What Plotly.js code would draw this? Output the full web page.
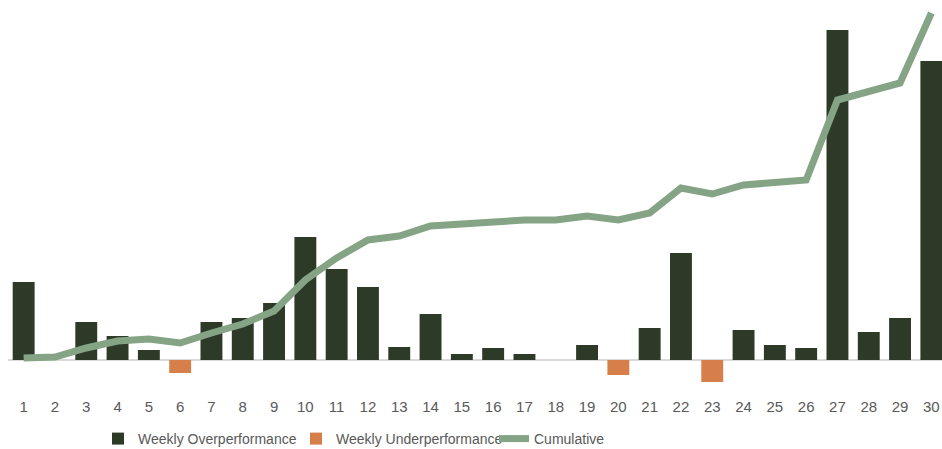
<!DOCTYPE html>
<html><head><meta charset="utf-8">
<script src="https://cdn.plot.ly/plotly-3.0.1.min.js"></script>
<style>html,body{margin:0;padding:0;background:#fff}#c{width:942px;height:449px}</style>
</head><body><div id="c"></div>
<script>
const weeks = [1,2,3,4,5,6,7,8,9,10,11,12,13,14,15,16,17,18,19,20,21,22,23,24,25,26,27,28,29,30];
const over  = [78,0,38,24,10,0,38,42,57,123,91,73,13,46,6,12,6,0,15,0,32,107,0,30,15,12,330,28,42,299];
const under = [0,0,0,0,0,-13,0,0,0,0,0,0,0,0,0,0,0,0,0,-15,0,0,-22,0,0,0,0,0,0,0];
const cumulative = [2,3,12,19,21,17,27,36,49,80,102,120,124,134,136,138,140,140,144,140,147,172,166,175,178,180,260,268,277,347];

const traces = [
  {type:'bar', x:weeks, y:over, name:'Weekly Overperformance', marker:{color:'#2d3a28'}, width:0.7},
  {type:'bar', x:weeks, y:under, name:'Weekly Underperformance', marker:{color:'#d77f4a'}, width:0.7},
  {type:'scatter', mode:'lines', x:weeks, y:cumulative, name:'Cumulative', line:{color:'#85a485', width:7}}
];
const layout = {
  width:942, height:449,
  margin:{l:8, r:0, t:5, b:59},
  paper_bgcolor:'#fff', plot_bgcolor:'#fff',
  barmode:'relative', bargap:0.3,
  showlegend:true,
  font:{family:'Liberation Sans, Arial, sans-serif', color:'#595959'},
  xaxis:{range:[0.5,30.34], tickvals:weeks, ticktext:weeks.map(String), showgrid:false, zeroline:false,
         showline:false, ticks:'outside', ticklen:3, tickcolor:'rgba(0,0,0,0)', tickfont:{size:15, color:'#595959'}},
  yaxis:{range:[-30,355], showgrid:false, showticklabels:false, zeroline:true, zerolinecolor:'#d9d9d9', zerolinewidth:2, showline:false},
  legend:{orientation:'h', xref:'container', yref:'container', x:98/942, xanchor:'left', y:1-439/449, yanchor:'middle',
          entrywidth:153, entrywidthmode:'pixels', font:{size:14, color:'#595959'}, traceorder:'normal'}
};
Plotly.newPlot('c', traces, layout, {displayModeBar:false, staticPlot:true});
</script>
</body></html>
